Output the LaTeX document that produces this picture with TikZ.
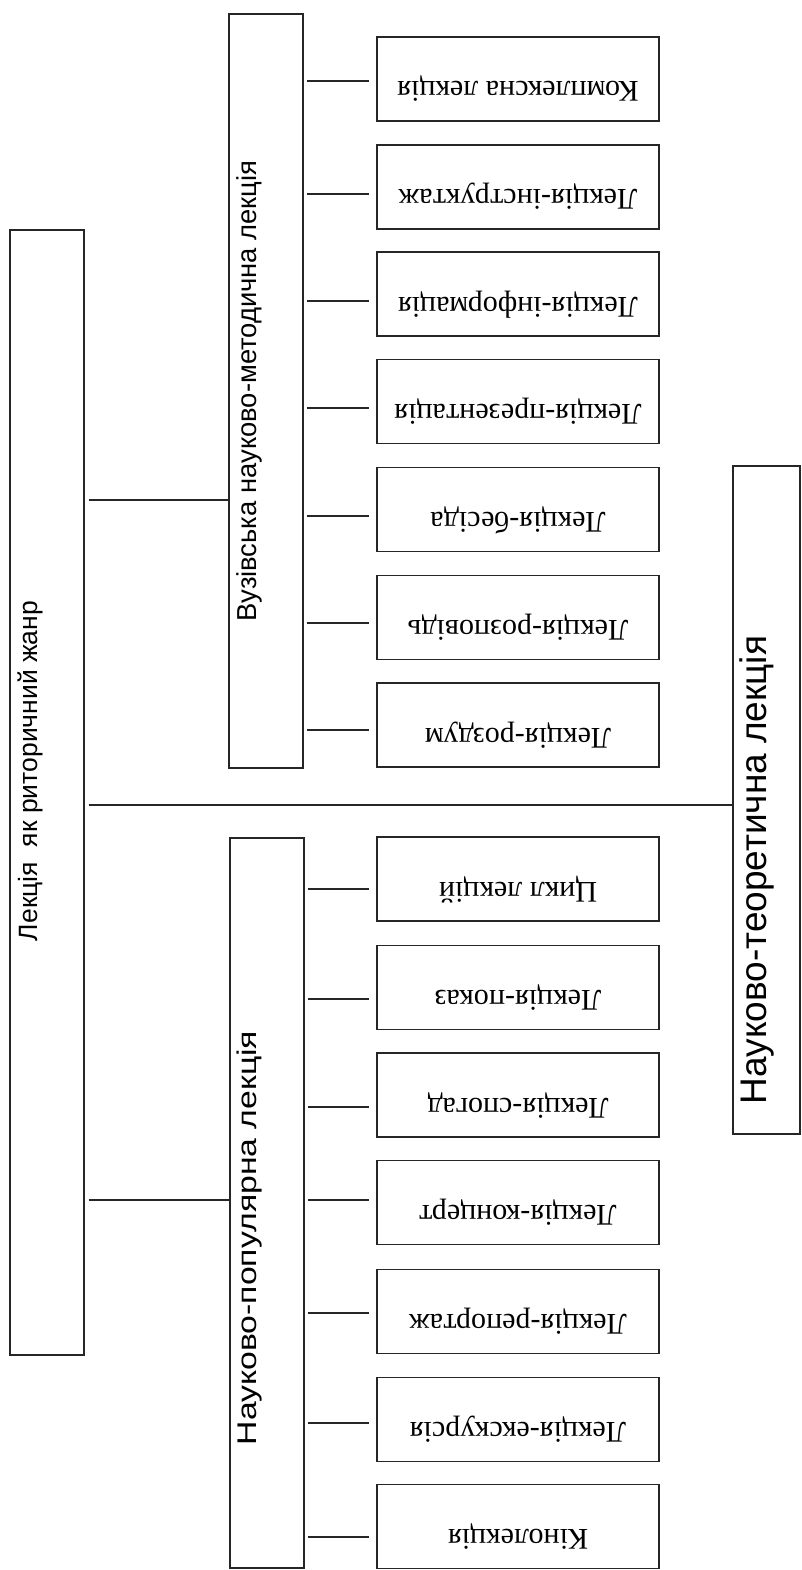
\documentclass[tikz,border=0pt]{standalone}
\usepackage{fontspec}
\setmainfont{Liberation Serif}
\newfontfamily\lecsans{Liberation Sans}

\begin{document}
\begin{tikzpicture}[x=1pt,y=-1pt,
    group/.style={draw=black!85,line width=1.1pt,inner sep=0pt},
    grouptext/.style={font=\lecsans\fontsize{#1}{30}\selectfont,inner sep=0pt},
    kind/.style={draw=black!85,line width=1.1pt,inner sep=0pt,
      minimum width=282pt,minimum height=84pt,
      text height=15pt,text depth=9pt,font=\fontsize{30}{34}\selectfont},
    link/.style={line width=1.1pt,black!85}]
    \useasboundingbox (0,0) rectangle (801,1570);
    % groups
    \node[group,minimum width=74pt,minimum height=1125pt] (zhanr) at (47,792.5) {};
    \node[grouptext=26.5] (zhanr-t) at (30,771) {\rotatebox{90}{Лекція\ \ як риторичний жанр}};
    \node[group,minimum width=74pt,minimum height=754pt] (vnm) at (266,391) {};
    \node[grouptext=27.4] (vnm-t) at (249,391) {\rotatebox{90}{Вузівська науково-методична лекція}};
    \node[group,minimum width=74pt,minimum height=730pt] (np) at (267,1203) {};
    \node[grouptext=27] (np-t) at (250,1238) {\rotatebox{90}{\scalebox{1.25}[1]{Науково-популярна лекція}}};
    \node[group,minimum width=67pt,minimum height=668pt] (nt) at (766.5,800) {};
    \node[grouptext=37] (nt-t) at (757,870) {\rotatebox{90}{Науково-теоретична лекція}};
    % main links
    \draw[link,shorten <=4pt] (zhanr.east |- 0,500) -- (vnm.west |- 0,500);
    \draw[link,shorten <=4pt] (zhanr.east |- 0,805) -- (nt.west |- 0,805);
    \draw[link,shorten <=4pt] (zhanr.east |- 0,1200) -- (np.west |- 0,1200);
    % kinds of the first group
    \foreach \n/\c/\l/\t in {1/79/81/Комплексна лекція,
        2/187/194/Лекція-інструктаж,
        3/294/301/Лекція-інформація,
        4/401.5/408/Лекція-презентація,
        5/509.5/516/Лекція-бесіда,
        6/617.5/623/Лекція-розповідь,
        7/725/730/Лекція-роздум}{
      \node[kind] (v\n) at (518,\c) {\rotatebox{180}{\t}};
      \draw[link,shorten <=3pt,shorten >=7pt] (vnm.east |- 0,\l) -- (v\n.west |- 0,\l);
    }
    % kinds of the second group
    \foreach \n/\c/\l/\t in {1/879/889/Цикл лекцій,
        2/987.5/999/Лекція-показ,
        3/1095/1107/Лекція-спогад,
        4/1202.5/1200/Лекція-концерт,
        5/1311.5/1313/Лекція-репортаж,
        6/1419.5/1423/Лекція-екскурсія,
        7/1526.5/1537/Кінолекція}{
      \node[kind] (p\n) at (518,\c) {\rotatebox{180}{\t}};
      \draw[link,shorten <=3pt,shorten >=7pt] (np.east |- 0,\l) -- (p\n.west |- 0,\l);
    }
\end{tikzpicture}
\end{document}
